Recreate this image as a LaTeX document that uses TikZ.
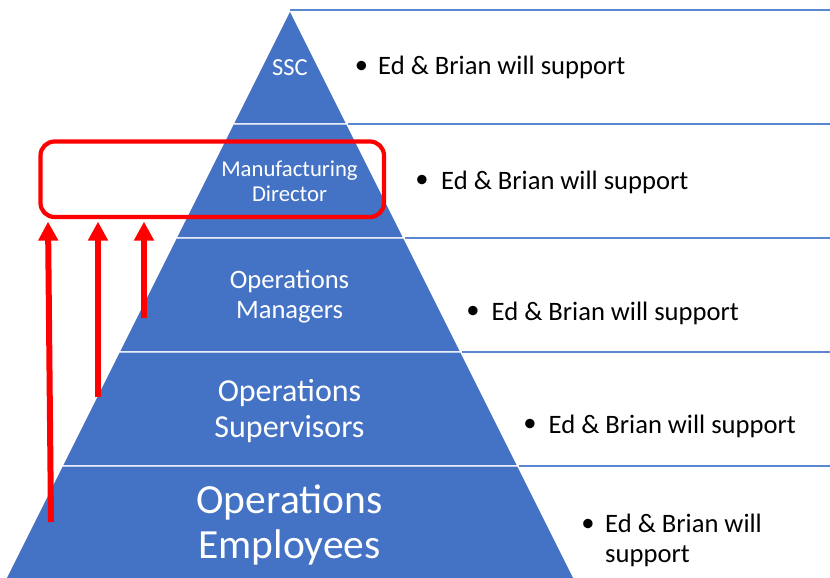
\documentclass[tikz,border=0pt]{standalone}
\usepackage{fontspec}
\setmainfont{Carlito}
\usetikzlibrary{arrows.meta}
\definecolor{pyrblue}{HTML}{4472C4}
\definecolor{ruleblue}{HTML}{5B86D0}
\definecolor{alertred}{HTML}{FF0000}
\newcommand{\fs}[1]{\fontsize{#1}{1.1\dimexpr #1pt\relax}\selectfont}
\begin{document}
\begin{tikzpicture}[x=1pt,y=-1pt,
  band/.style={fill=pyrblue, draw=white, line width=1.4pt, line join=miter},
  level/.style={text=white, align=center, inner sep=0pt},
  rule/.style={draw=ruleblue, line width=1.2pt},
  dot/.style={inner sep=0pt, anchor=center, font=\fs{26.6}},
  note/.style={inner sep=0pt, anchor=base west, align=left, font=\fs{26.6}},
  focusbox/.style={draw=alertred, line width=4.2pt, rounded corners=14pt,
    inner sep=0pt, minimum width=343.5pt, minimum height=75.5pt},
  lift/.style={draw=alertred, line width=6pt,
    -{Triangle[width=19pt,length=19pt]}, shorten >=2.5pt}
]
\useasboundingbox (0,0) rectangle (830,578);

% pyramid bands, top to bottom
\fill[band] (290,10) -- (347,124) -- (233,124) -- cycle;
\fill[band] (233,124) -- (347,124) -- (404,238) -- (176,238) -- cycle;
\fill[band] (176,238) -- (404,238) -- (461,352) -- (119,352) -- cycle;
\fill[band] (119,352) -- (461,352) -- (518,466) -- (62,466) -- cycle;
\fill[band] (62,466) -- (518,466) -- (576,582) -- (4,582) -- cycle;
\draw[band] (290,10) -- (347,124) -- (233,124) -- cycle;
\draw[band] (233,124) -- (347,124) -- (404,238) -- (176,238) -- cycle;
\draw[band] (176,238) -- (404,238) -- (461,352) -- (119,352) -- cycle;
\draw[band] (119,352) -- (461,352) -- (518,466) -- (62,466) -- cycle;
\draw[band] (62,466) -- (518,466) -- (576,582) -- (4,582) -- cycle;

% row rules to the right of the pyramid
\coordinate (r0) at (290,10);
\coordinate (r1) at (347.5,124);
\coordinate (r2) at (404.5,238);
\coordinate (r3) at (461.5,352);
\coordinate (r4) at (518.5,466);
\coordinate (e0) at (830,10);
\coordinate (e1) at (830,124);
\coordinate (e2) at (830,238);
\coordinate (e3) at (830,352);
\coordinate (e4) at (830,466);
\foreach \i in {0,...,4} \draw[rule] (r\i) -- (e\i);

% level labels
\node[level, font=\fs{24.5}] (ssc) at (290,68) {SSC};
\node[level, font=\fs{22.7}] (mfg) at (289.5,181.5) {Manufacturing\\Director};
\node[level, font=\fs{26.6}] (mgr) at (289.5,296.5) {Operations\\Managers};
\node[level, font=\fs{32}] (sup) at (289.5,411) {Operations\\Supervisors};
\node[level, font=\fs{41.5}] (emp) at (289.5,525) {Operations\\Employees};

% support notes
\node[dot] (d1) at (361.5,67) {\textbullet};
\node[note] (n1) at (378,74.5) {Ed \& Brian will support};
\node[dot] (d2) at (422,181) {\textbullet};
\node[note] (n2) at (441,189) {Ed \& Brian will support};
\node[dot] (d3) at (473,312) {\textbullet};
\node[note] (n3) at (491.5,320) {Ed \& Brian will support};
\node[dot] (d4) at (530,425.5) {\textbullet};
\node[note] (n4) at (548.5,433.5) {Ed \& Brian will support};
\node[dot] (d5) at (588,525) {\textbullet};
\node[note] (n5) at (605,562) {Ed \& Brian will\\support};

% highlight around the director level and the upward arrows
\node[focusbox] (focus) at (212.25,179.25) {};
\coordinate (a1) at (51,522);
\coordinate (a2) at (98,397);
\coordinate (a3) at (144,318);
\coordinate (t1) at (48,217);
\coordinate (t2) at (98,217);
\coordinate (t3) at (144,217);
\draw[lift] (a1) -- (t1 |- focus.south);
\draw[lift] (a2) -- (t2 |- focus.south);
\draw[lift] (a3) -- (t3 |- focus.south);
\end{tikzpicture}
\end{document}
